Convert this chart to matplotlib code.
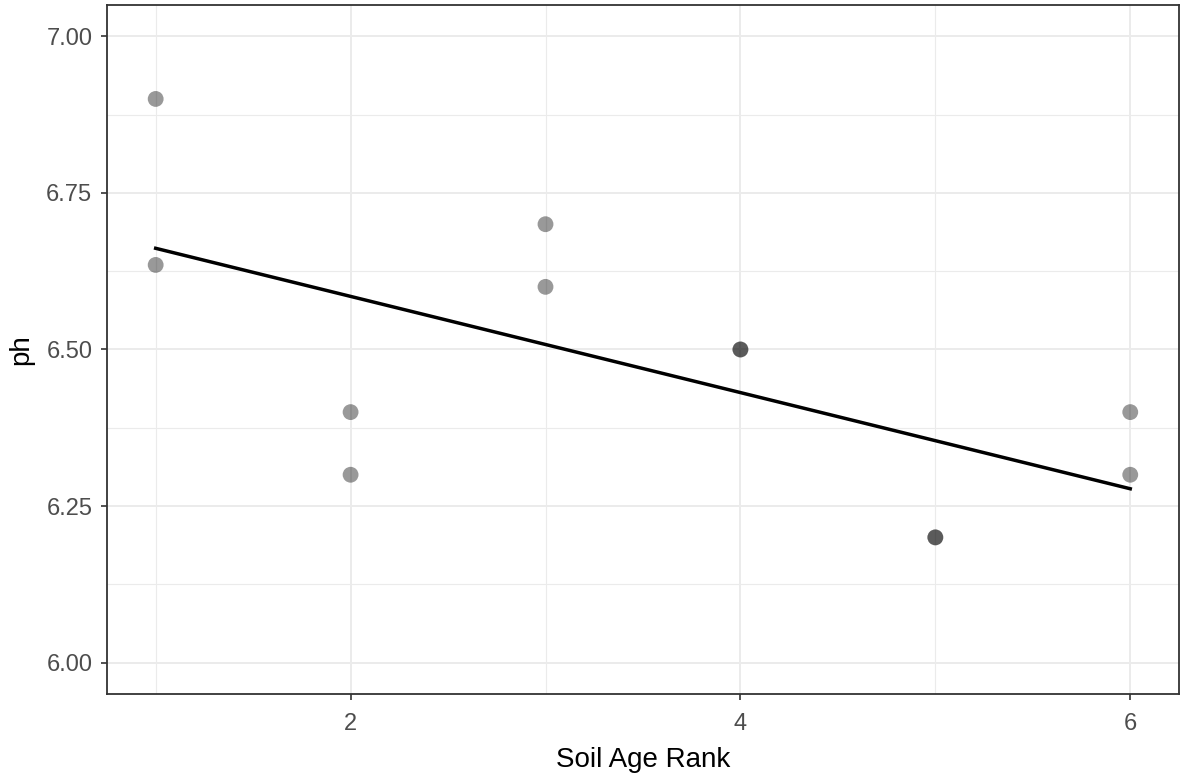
import matplotlib
matplotlib.use('Agg')
import matplotlib.pyplot as plt
import numpy as np

# soil age rank vs pH
rank = [1, 1, 2, 2, 3, 3, 4, 4, 5, 5, 6, 6]
ph = [6.9, 6.635, 6.4, 6.3, 6.7, 6.6, 6.5, 6.5, 6.2, 6.2, 6.4, 6.3]
x_ticks = [2, 4, 6]
y_ticks = [6.00, 6.25, 6.50, 6.75, 7.00]

plt.rcParams['font.family'] = ['Liberation Sans', 'DejaVu Sans']

fig = plt.figure(figsize=(11.83, 7.8), dpi=100)
ax = fig.add_axes([0.0904, 0.1103, 0.9062, 0.8833])

# grid like theme_bw
ax.set_axisbelow(True)
ax.set_xticks(x_ticks)
ax.set_xticks([1, 3, 5], minor=True)
ax.set_yticks(y_ticks)
ax.set_yticks([6.125, 6.375, 6.625, 6.875], minor=True)
ax.grid(which='major', color='#ebebeb', linewidth=1.4)
ax.grid(which='minor', color='#ebebeb', linewidth=0.8)

ax.scatter(rank, ph, s=130, color='black', alpha=0.4, edgecolors='none', zorder=3)

# linear fit (geom_smooth method = lm, no se)
coef = np.polyfit(rank, ph, 1)
xs = np.array([min(rank), max(rank)])
ax.plot(xs, np.polyval(coef, xs), color='black', linewidth=2.5, zorder=4)

ax.set_xlim(0.75, 6.25)
ax.set_ylim(5.95, 7.05)
ax.set_yticklabels(['%.2f' % v for v in y_ticks])

for s in ax.spines.values():
    s.set_color('#333333')
    s.set_linewidth(1.3)
ax.tick_params(which='major', length=4, width=1.2, color='#333333',
               labelcolor='#4d4d4d', labelsize=17)
ax.tick_params(axis='x', pad=9.5)
ax.tick_params(axis='y', pad=6.5)
ax.tick_params(which='minor', length=0)

ax.set_xlabel('Soil Age Rank', fontsize=20, color='black', labelpad=9)
ax.set_ylabel('ph', fontsize=20, color='black', labelpad=9)

fig.savefig('out.png', dpi=100)
